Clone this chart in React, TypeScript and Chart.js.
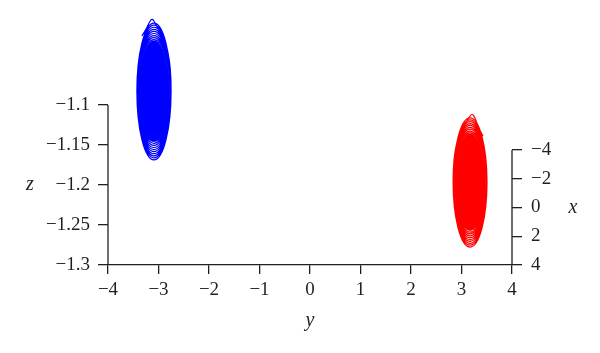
import React, { useEffect, useRef } from 'react';
import { Chart, registerables } from 'chart.js';

Chart.register(...registerables);

// Tick labels
const yTicks = [-4, -3, -2, -1, 0, 1, 2, 3, 4];
const zTicks = [-1.3, -1.25, -1.2, -1.15, -1.1];
const xTicks = [-4, -2, 0, 2, 4];

// Blue trajectory (y, z): start, then top/right/bottom/left per turn
const blueY = [-3.33,
  -3.09, -2.7506, -3.09, -3.4281,
  -3.09, -2.7531, -3.09, -3.4256,
  -3.09, -2.7556, -3.09, -3.4231,
  -3.09, -2.7581, -3.09, -3.4206,
  -3.09, -2.7606, -3.09, -3.4181,
  -3.09, -2.7631, -3.09, -3.4156,
  -3.09, -2.7656, -3.09, -3.4131,
  -3.09, -2.7681, -3.09, -3.4106,
  -3.09, -2.7706, -3.09, -3.4081,
  -3.09, -2.7731, -3.09, -3.4056,
  -3.09];
const blueZ = [-1.0135,
  -0.995, -1.0825, -1.1687, -1.0825,
  -0.9976, -1.0825, -1.1661, -1.0825,
  -1.0002, -1.0825, -1.1635, -1.0825,
  -1.0028, -1.0825, -1.1609, -1.0825,
  -1.0054, -1.0825, -1.1583, -1.0825,
  -1.008, -1.0825, -1.1557, -1.0825,
  -1.0106, -1.0825, -1.1531, -1.0825,
  -1.0132, -1.0825, -1.1505, -1.0825,
  -1.0158, -1.0825, -1.1479, -1.0825,
  -1.0184, -1.0825, -1.1453, -1.0825,
  -1.021];
const blueCoreY = [-3.4065, -3.09, -2.7735, -3.09, -3.4065, -3.09, -2.7735];
const blueCoreZ = [-1.0825, -1.0195, -1.0825, -1.1455, -1.0825, -1.0195, -1.0825];

// Red trajectory (y, z): start, then top/left/bottom/right per turn
const redY = [3.427,
  3.17, 2.8337, 3.17, 3.505,
  3.17, 2.8364, 3.17, 3.5023,
  3.17, 2.8391, 3.17, 3.4996,
  3.17, 2.8418, 3.17, 3.4969,
  3.17, 2.8445, 3.17, 3.4942,
  3.17, 2.8472, 3.17, 3.4915,
  3.17, 2.8499, 3.17, 3.4888,
  3.17, 2.8526, 3.17, 3.4861,
  3.17, 2.8553, 3.17, 3.4834,
  3.17, 2.858, 3.17, 3.4807,
  3.17];
const redZ = [-1.1388,
  -1.1138, -1.1963, -1.2776, -1.1963,
  -1.1161, -1.1963, -1.2752, -1.1963,
  -1.1185, -1.1963, -1.2729, -1.1963,
  -1.1208, -1.1963, -1.2705, -1.1963,
  -1.1232, -1.1963, -1.2682, -1.1963,
  -1.1255, -1.1963, -1.2658, -1.1963,
  -1.1279, -1.1963, -1.2635, -1.1963,
  -1.1302, -1.1963, -1.2611, -1.1963,
  -1.1326, -1.1963, -1.2588, -1.1963,
  -1.1349, -1.1963, -1.2564, -1.1963,
  -1.1372];
const redCoreY = [2.858, 3.17, 3.482, 3.17, 2.858, 3.17, 3.482];
const redCoreZ = [-1.1963, -1.1357, -1.1963, -1.2568, -1.1963, -1.1357, -1.1963];

// Axis lines of the box
const leftLineY = [-4, -4];
const leftLineZ = [-1.3, -1.1];
const rightLineY = [4, 4];
const rightLineX = [-4, 4];

const BLUE = '#0000ff';
const RED = '#ff0000';
const INK = '#231f20';
const FONT = "'Liberation Serif', 'Times New Roman', serif";

const pts = (a: number[], b: number[]) => a.map((v, i) => ({ x: v, y: b[i] }));
const fmt = (v: any) => {
  const n = Number(v);
  return n < 0 ? '\u2212' + String(Math.abs(n)) : String(n);
};
const setTicks = (list: number[]) => (s: any) => {
  s.ticks = list.map((v) => ({ value: v }));
};
const fixSize = (dim: 'width' | 'height', size: number) => (s: any) => {
  s[dim] = size;
  s.paddingTop = 0;
  s.paddingBottom = 0;
  s.paddingLeft = 0;
  s.paddingRight = 0;
};

const titlePlugin = {
  id: 'axisTitles',
  afterDraw(chart: any) {
    const ctx = chart.ctx;
    const s = chart.scales;
    ctx.save();
    ctx.font = `italic 20px ${FONT}`;
    ctx.fillStyle = INK;
    ctx.textAlign = 'center';
    ctx.textBaseline = 'middle';
    ctx.fillText('z', 30, s.axZ.getPixelForValue(-1.2));
    ctx.fillText('y', s.axY.getPixelForValue(0), 321);
    ctx.fillText('x', 573, s.axX.getPixelForValue(0));
    ctx.restore();
  },
};

export default function App() {
  const ref = useRef<HTMLCanvasElement | null>(null);
  useEffect(() => {
    if (!ref.current) return;
    const lineBase = {
      showLine: true,
      pointRadius: 0,
      xAxisID: 'axY',
      yAxisID: 'axZ',
      clip: false as any,
    };
    const tickFont = { family: FONT, size: 19 };
    const chart = new Chart(ref.current, {
      type: 'scatter',
      data: {
        datasets: [
          { ...lineBase, label: 'blue core', data: pts(blueCoreY, blueCoreZ), borderWidth: 0, borderColor: BLUE, backgroundColor: BLUE, fill: 'shape', tension: 0.55 },
          { ...lineBase, label: 'blue', data: pts(blueY, blueZ), borderWidth: 1.2, borderColor: BLUE, fill: false, tension: 0.55 },
          { ...lineBase, label: 'red core', data: pts(redCoreY, redCoreZ), borderWidth: 0, borderColor: RED, backgroundColor: RED, fill: 'shape', tension: 0.55 },
          { ...lineBase, label: 'red', data: pts(redY, redZ), borderWidth: 1.2, borderColor: RED, fill: false, tension: 0.55 },
          { ...lineBase, label: 'z axis', data: pts(leftLineY, leftLineZ), borderWidth: 1.3, borderColor: INK, fill: false, tension: 0 },
          { ...lineBase, label: 'x axis', yAxisID: 'axX', data: pts(rightLineY, rightLineX), borderWidth: 1.3, borderColor: INK, fill: false, tension: 0 },
        ] as any,
      },
      options: {
        responsive: false,
        devicePixelRatio: 1,
        animation: false,
        events: [],
        layout: { padding: { top: 10, left: 0, right: 0, bottom: 0 } },
        plugins: { legend: { display: false }, tooltip: { enabled: false } },
        scales: {
          axY: {
            type: 'linear', axis: 'x', position: 'bottom', min: -4, max: 4,
            afterBuildTicks: setTicks(yTicks),
            afterFit: fixSize('height', 88),
            border: { display: true, color: INK, width: 1.3 },
            grid: { drawOnChartArea: false, drawTicks: true, tickLength: 9, color: INK, lineWidth: 1.3 },
            ticks: { autoSkip: false, maxRotation: 0, padding: 5, color: INK, font: tickFont, callback: fmt },
          },
          axZ: {
            type: 'linear', axis: 'y', position: 'left', min: -1.3, max: -0.98125,
            afterBuildTicks: setTicks(zTicks),
            afterFit: fixSize('width', 108),
            border: { display: false },
            grid: { drawOnChartArea: false, drawTicks: true, tickLength: 10, color: INK, lineWidth: 1.3 },
            ticks: { autoSkip: false, padding: 8, color: INK, font: tickFont, callback: fmt },
          },
          axX: {
            type: 'linear', axis: 'y', position: 'right', min: -13.739, max: 4, reverse: true,
            afterBuildTicks: setTicks(xTicks),
            afterFit: fixSize('width', 88),
            border: { display: false },
            grid: { drawOnChartArea: false, drawTicks: true, tickLength: 10, color: INK, lineWidth: 1.3 },
            ticks: { autoSkip: false, padding: 9, color: INK, font: tickFont, callback: fmt },
          },
        } as any,
      },
      plugins: [titlePlugin],
    });
    return () => chart.destroy();
  }, []);
  return (
    <div style={{ position: 'fixed', left: 0, top: 0, width: 600, height: 353, background: '#fff' }}>
      <canvas ref={ref} width={600} height={353} style={{ display: 'block' }} />
    </div>
  );
}
